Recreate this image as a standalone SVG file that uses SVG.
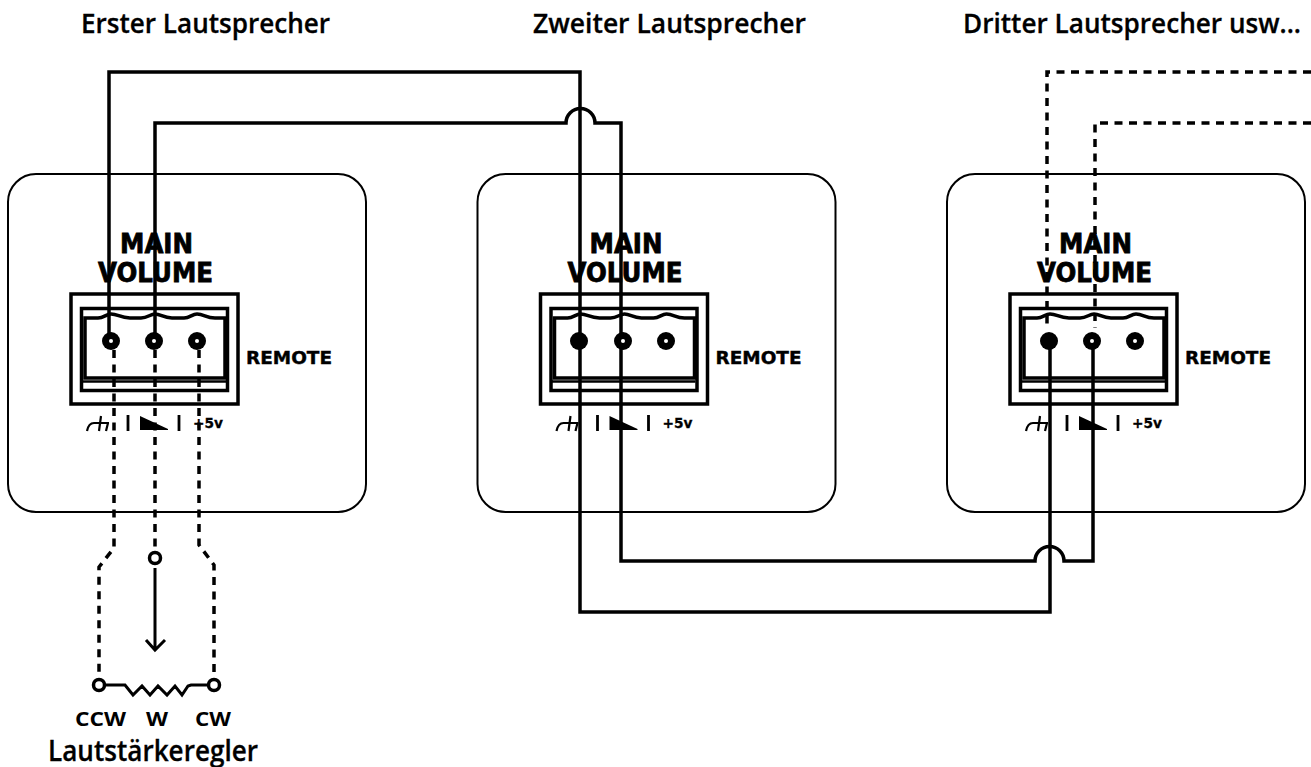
<svg xmlns="http://www.w3.org/2000/svg" width="1311" height="767" viewBox="0 0 1311 767">
<style>
.panel{fill:#fff;stroke:#000;stroke-width:2}
.thick{fill:none;stroke:#000;stroke-width:3.500}
.wire{fill:none;stroke:#000;stroke-width:3.500}
.thin{fill:none;stroke:#000;stroke-width:3}
.dash{fill:none;stroke:#000;stroke-width:3.500;stroke-dasharray:8 6.500}
.term{fill:#fff;stroke:#000;stroke-width:3.500}
.hd{font-family:"Open Sans","Noto Sans",sans-serif;font-weight:600;font-size:27px;fill:#000;stroke:#000;stroke-width:.3}
.lab{font-family:"Open Sans","Noto Sans",sans-serif;font-weight:700;font-size:20px;fill:#000}
.mv{font-family:"DejaVu Sans",sans-serif;font-weight:700;font-size:26px;fill:#000;stroke:#000;stroke-width:.8}
.rm{font-family:"DejaVu Sans",sans-serif;font-weight:700;font-size:17.500px;fill:#000;stroke:#000;stroke-width:.4}
.v5{font-family:"DejaVu Sans",sans-serif;font-weight:700;font-size:14px;fill:#000;stroke:#000;stroke-width:.3}
</style>
<defs>
<g id="unit">
<rect class="panel" x="8" y="174" width="358" height="338" rx="28"/>
<text class="mv" x="120" y="253" textLength="73" lengthAdjust="spacingAndGlyphs">MAIN</text>
<text class="mv" x="98" y="282" textLength="115" lengthAdjust="spacingAndGlyphs">VOLUME</text>
<rect class="thick" x="71" y="294" width="167" height="110"/>
<rect class="thick" x="81.500" y="308.500" width="146" height="82"/>
<path d="M85 318H98C104 318 106 314 111 314C118 314 120 318 130 318H141C148 318 150 314 155 314C161 314 163 318 172 318H184C190 318 192 314 197 314C204 314 206 318 215 318H225V378H85Z" class="thick"/>
<path d="M82 381.500H226" stroke="#000" stroke-width="2.500" fill="none"/>
<text class="rm" x="246" y="364" textLength="86" lengthAdjust="spacingAndGlyphs">REMOTE</text>
<path d="M87 431C88 426 90 423 94 423H109M101 416L99 431M108 423L106 431" fill="none" stroke="#000" stroke-width="2.200"/>
<path d="M128 415V431M179 415V431" stroke="#000" stroke-width="2.800" fill="none"/>
<path d="M140 416V430H168V429Z" fill="#000"/>
<text class="v5" x="193" y="428" textLength="30" lengthAdjust="spacingAndGlyphs">+5v</text>
</g>
<g id="hole"><circle r="9" fill="#000"/><circle r="2" fill="#fff"/></g>
<g id="holeSolid"><circle r="9" fill="#000"/></g>
</defs>
<g id="speaker1"><use href="#unit"/></g>
<g id="speaker2"><use href="#unit" x="469.500"/></g>
<g id="speaker3"><use href="#unit" x="939"/></g>
<g id="connectors">
<path class="wire" d="M109 341V72H580V612H1050V341"/>
<path class="wire" d="M155 341V123H566A14.500 14.500 0 0 1 595 123H621V561H1035A14.500 14.500 0 0 1 1064 561H1093V341"/>
<path class="dash" d="M1311 72H1047V328"/>
<path class="dash" d="M1311 123H1095V328"/>
<path class="dash" d="M114 350V548L99 567V680"/>
<path class="dash" d="M155 350V550"/>
<path class="dash" d="M199 350V545L214 565V680"/>
<path class="thin" d="M155 568V649M146 640L155 650L165 640"/>
<path class="thin" d="M105 685H125L133 695L142 686L150 695L158 686L167 695L175 686L182 695L188 686L191 685H208"/>
<circle class="term" cx="155" cy="558" r="5.500"/>
<circle class="term" cx="99" cy="685" r="5.500"/>
<circle class="term" cx="214" cy="685" r="5.500"/>
</g>
<g id="terminals">
<use href="#hole" x="111" y="341"/><use href="#hole" x="154" y="341"/><use href="#hole" x="197" y="341"/>
<use href="#holeSolid" x="579" y="341"/><use href="#hole" x="623" y="341"/><use href="#hole" x="666" y="341"/>
<use href="#holeSolid" x="1049" y="341"/><use href="#hole" x="1092" y="341"/><use href="#hole" x="1135" y="341"/>
</g>
<g id="labels">
<text class="hd" x="81" y="33" textLength="249" lengthAdjust="spacingAndGlyphs">Erster Lautsprecher</text>
<text class="hd" x="533" y="33" textLength="273" lengthAdjust="spacingAndGlyphs">Zweiter Lautsprecher</text>
<text class="hd" x="963" y="33" textLength="338" lengthAdjust="spacingAndGlyphs">Dritter Lautsprecher usw...</text>
<text class="lab" x="75" y="726" textLength="51" lengthAdjust="spacingAndGlyphs">CCW</text>
<text class="lab" x="146" y="726" textLength="22" lengthAdjust="spacingAndGlyphs">W</text>
<text class="lab" x="195" y="726" textLength="36" lengthAdjust="spacingAndGlyphs">CW</text>
<text class="hd" x="48" y="761" textLength="210" lengthAdjust="spacingAndGlyphs" style="font-size:28px">Lautstärkeregler</text>
</g>
</svg>
